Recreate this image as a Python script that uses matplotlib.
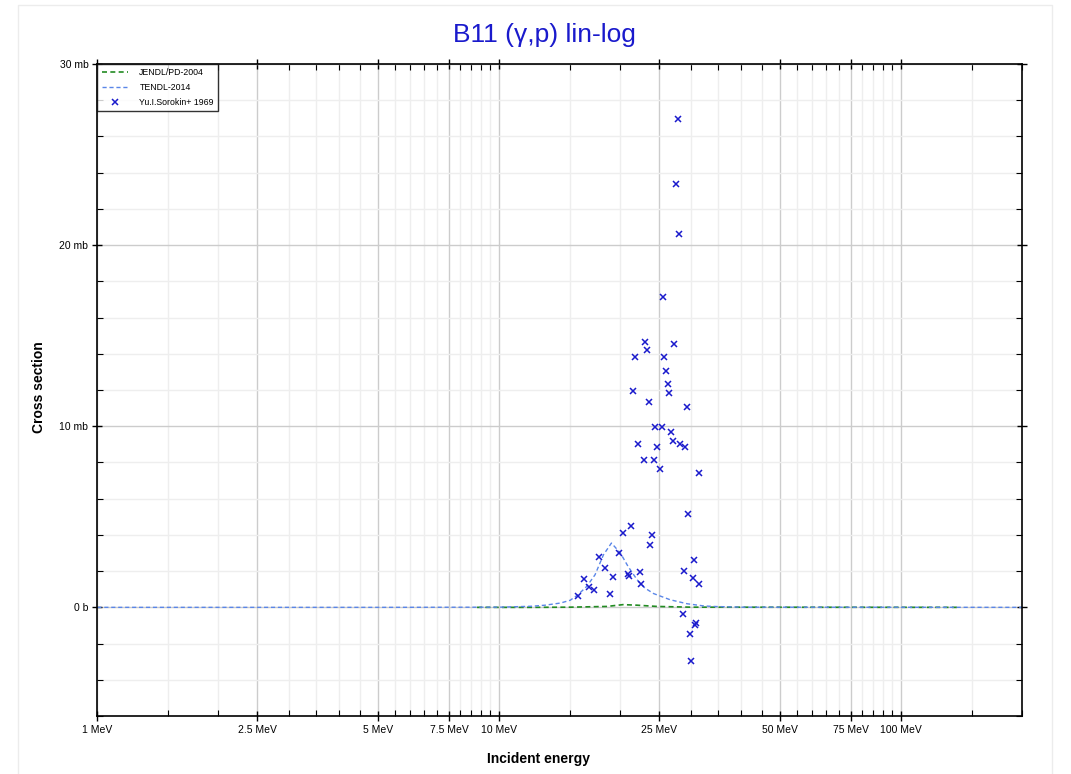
import numpy as np
import matplotlib
matplotlib.use("Agg")
import matplotlib.pyplot as plt
from matplotlib.patches import Rectangle
from matplotlib.ticker import NullFormatter

plt.rcParams['font.family'] = ['Liberation Sans', 'DejaVu Sans']

# Yu.I.Sorokin+ 1969 data (energy in MeV, cross section in mb)
sorokin_e = [27.79, 27.47, 27.99, 25.59, 23.08, 27.25, 23.27, 21.76, 25.73, 25.98,
             26.24, 21.54, 26.48, 23.57, 29.26, 24.44, 25.36, 26.79, 22.17, 27.00,
             28.15, 28.97, 24.72, 22.87, 24.25, 25.06, 31.44, 29.48, 21.30, 20.35,
             24.02, 23.74, 19.82, 17.74, 30.50, 18.35, 28.75, 22.36, 20.87, 21.06,
             19.21, 16.22, 30.27, 31.33, 22.55, 16.75, 17.23, 18.85, 15.73, 28.59,
             30.85, 30.73, 29.82, 29.99]
sorokin_xs = [26.96, 23.37, 20.60, 17.11, 14.63, 14.52, 14.22, 13.82, 13.82, 13.03,
              12.33, 11.95, 11.82, 11.32, 11.05, 9.94, 9.94, 9.70, 9.04, 9.19,
              9.04, 8.86, 8.84, 8.16, 8.13, 7.63, 7.41, 5.18, 4.50, 4.10,
              4.01, 3.42, 3.02, 2.78, 2.61, 2.17, 2.01, 1.93, 1.86, 1.73,
              1.68, 1.54, 1.60, 1.31, 1.31, 1.10, 0.94, 0.74, 0.64, -0.35,
              -0.88, -0.95, -1.47, -2.98]

# TENDL-2014 evaluation
tendl_e = [1, 5, 10, 12, 13, 14.2, 15, 15.7, 16.5, 17.3, 18.15, 19.0, 20.0, 20.9,
           22.0, 23.0, 24.2, 26.6, 29.3, 32.2, 34, 40, 200]
tendl_xs = [0, 0, 0.01, 0.06, 0.12, 0.24, 0.39, 0.70, 1.16, 1.80, 2.90, 3.55, 3.00, 2.26,
            1.53, 1.07, 0.76, 0.42, 0.20, 0.08, 0.05, 0.01, 0]

# JENDL/PD-2004 evaluation
jendl_e = [8.8, 12, 15, 18.5, 20.3, 22, 24.7, 30, 140]
jendl_xs = [0, 0, 0.01, 0.05, 0.15, 0.12, 0.05, 0.01, 0]

xticks = [1, 2.5, 5, 7.5, 10, 25, 50, 75, 100]
xticklabels = ["1 MeV", "2.5 MeV", "5 MeV", "7.5 MeV", "10 MeV",
               "25 MeV", "50 MeV", "75 MeV", "100 MeV"]
yticks = [0, 10, 20, 30]
yticklabels = ["0 b", "10 mb", "20 mb", "30 mb"]

fig = plt.figure(figsize=(10.71, 7.74), dpi=100)
fig.patches.append(Rectangle((0.0168, -0.01), 0.965, 1.0035, transform=fig.transFigure,
                             fill=False, edgecolor="#ececec", linewidth=1))
ax = fig.add_axes([0.0909, 0.0749, 0.8637, 0.8424])

ax.plot(jendl_e, jendl_xs, color="#228b22", linestyle=(0, (3, 2)), linewidth=1.2,
        label="JENDL/PD-2004")
ax.plot(tendl_e, tendl_xs, color="#5a86e8", linestyle=(0, (3, 2)), linewidth=1.0,
        label="TENDL-2014")
ax.plot(sorokin_e, sorokin_xs, linestyle="none", marker="x", color="#1a1acc",
        markersize=4, markeredgewidth=1.1, label="Yu.I.Sorokin+ 1969")

ax.set_xscale("log")
ax.set_xlim(1, 200)
ax.set_ylim(-6, 30)

ax.set_xticks(xticks)
ax.set_xticklabels(xticklabels)
minor_x = list(np.arange(1.5, 10, 0.5)) + list(np.arange(15, 100, 5)) + [150, 200]
ax.set_xticks(minor_x, minor=True)
ax.xaxis.set_minor_formatter(NullFormatter())
ax.set_yticks(yticks)
ax.set_yticklabels(yticklabels)
ax.set_yticks(np.arange(-6, 30, 2), minor=True)

ax.tick_params(which="major", direction="inout", length=7, width=1, labelsize=7.5,
               top=True, right=True, pad=3)
ax.tick_params(which="minor", direction="in", length=4, width=0.8, top=True, right=True)
ax.grid(which="major", color="#cccccc", linewidth=1)
ax.grid(which="minor", color="#eeeeee", linewidth=1)
ax.set_axisbelow(True)
for s in ax.spines.values():
    s.set_linewidth(1.2)
    s.set_color("black")

leg = ax.legend(loc="upper left", fontsize=6.3, frameon=True, fancybox=False,
                borderaxespad=0, handlelength=3, handletextpad=1.3,
                labelspacing=0.65, borderpad=0.5)
leg.get_frame().set_edgecolor("black")
leg.get_frame().set_linewidth(1)

fig.text(0.508, 0.955, "B11 (γ,p) lin-log", color="#1a1acc", fontsize=19,
         ha="center", va="center")
fig.text(0.503, 0.02, "Incident energy", fontsize=10, fontweight="bold",
         ha="center", va="center")
fig.text(0.036, 0.5, "Cross section", fontsize=10, fontweight="bold",
         ha="center", va="center", rotation=90)

fig.savefig("out.png", dpi=100)
